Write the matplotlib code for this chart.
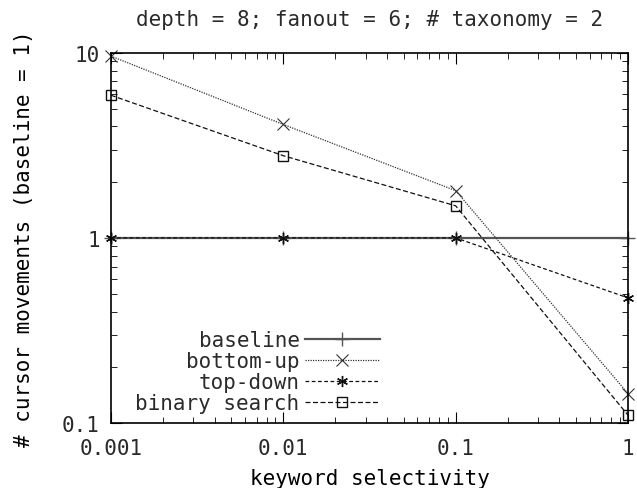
import numpy as np
import matplotlib.pyplot as plt
from matplotlib.ticker import LogLocator, FixedLocator, NullFormatter

plt.rcParams['font.family'] = 'DejaVu Sans Mono'
plt.rcParams['font.size'] = 15
plt.rcParams['text.color'] = '#2a2a2a'

selectivity = [0.001, 0.01, 0.1, 1]
baseline = [1, 1, 1, 1]
bottom_up = [9.6, 4.1, 1.8, 0.144]
top_down = [1, 1, 1, 0.474]
binary_search = [5.9, 2.78, 1.49, 0.11]

fig = plt.figure(figsize=(6.37, 4.89), dpi=100)
ax = fig.add_axes([0.174, 0.133, 0.812, 0.757])

ax.plot(selectivity, baseline, color='#555555', lw=1.6, ls='-', marker='+', ms=10, mew=1,
        label='baseline', clip_on=False)
ax.plot(selectivity, bottom_up, color='#333333', lw=0.9, ls=(0, (1, 1)), marker='x', ms=8, mew=0.8,
        label='bottom-up', clip_on=False)
ax.plot(selectivity, top_down, color='#111111', lw=0.9, ls=(0, (3, 2)), marker=(6, 2, 0), ms=8, mew=1,
        label='top-down', clip_on=False)
ax.plot(selectivity, binary_search, color='#111111', lw=0.9, ls=(0, (4, 2)), marker='s', ms=7,
        mfc='none', mew=1, label='binary search', clip_on=False)

ax.set_xscale('log')
ax.set_yscale('log')
ax.set_xlim(0.001, 1)
ax.set_ylim(0.1, 10)

ax.xaxis.set_major_locator(FixedLocator([0.001, 0.01, 0.1, 1]))
ax.set_xticklabels(['0.001', '0.01', '0.1', '1'])
ax.yaxis.set_major_locator(FixedLocator([0.1, 1, 10]))
ax.set_yticklabels(['0.1', '1', '10'])
ax.xaxis.set_minor_locator(LogLocator(base=10, subs=np.arange(2, 10)))
ax.yaxis.set_minor_locator(LogLocator(base=10, subs=np.arange(2, 10)))
ax.xaxis.set_minor_formatter(NullFormatter())
ax.yaxis.set_minor_formatter(NullFormatter())

ax.tick_params(which='both', direction='in', top=True, right=True, colors='black', labelcolor='#2a2a2a')
ax.tick_params(which='major', length=8)
ax.tick_params(which='minor', length=4)
ax.tick_params(axis='x', which='major', pad=11)
ax.tick_params(axis='y', which='major', pad=8)
for s in ax.spines.values():
    s.set_linewidth(1.2)

ax.set_title('depth = 8; fanout = 6; # taxonomy = 2', fontsize=15, pad=20)
ax.set_xlabel('keyword selectivity')
ax.set_ylabel('# cursor movements (baseline = 1)')
ax.xaxis.set_label_coords(0.5, -0.122)
ax.yaxis.set_label_coords(-0.149, 0.5)

leg = ax.legend(loc='lower right', bbox_to_anchor=(0.520, 0.027), markerfirst=False, frameon=False,
                handlelength=3.6, labelspacing=0.05, handletextpad=0.25, borderaxespad=0, borderpad=0)
for t in leg.get_texts():
    t.set_ha('right')

fig.savefig('out.png', dpi=100)
